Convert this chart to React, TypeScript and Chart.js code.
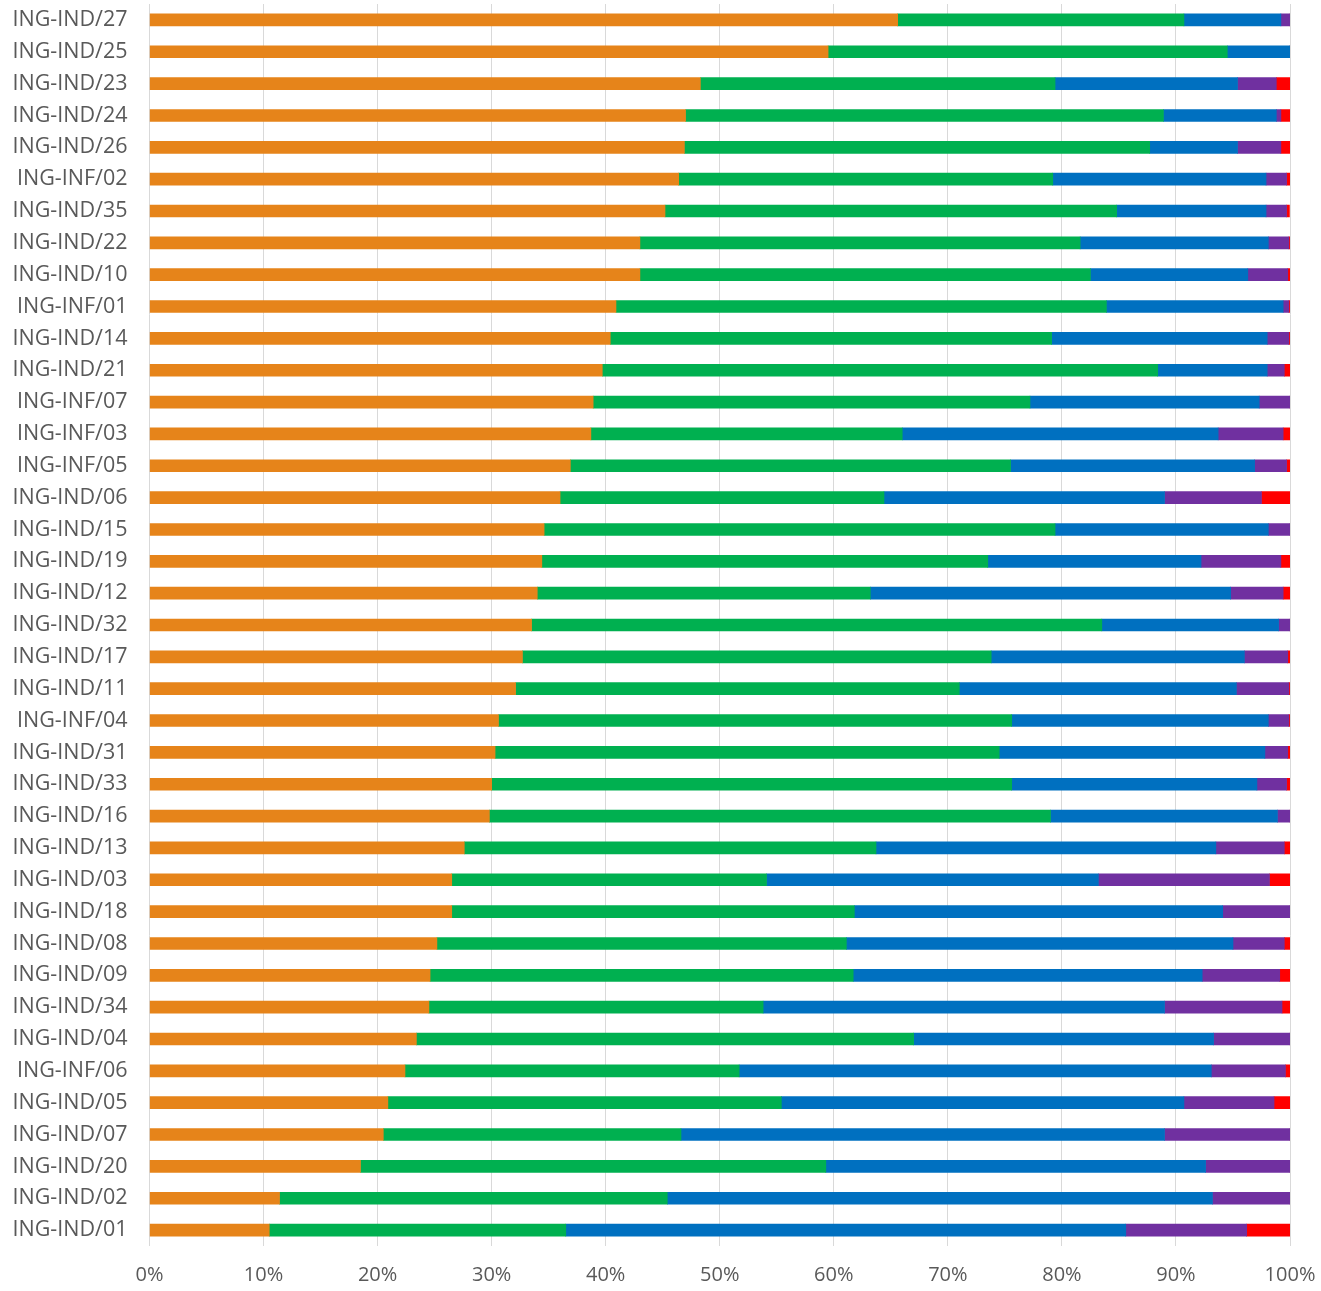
import React, { useEffect, useRef } from "react";
import { Chart, registerables } from "chart.js";

Chart.register(...registerables);

const categories = [
  "ING-IND/27", "ING-IND/25", "ING-IND/23", "ING-IND/24", "ING-IND/26", "ING-INF/02", "ING-IND/35", "ING-IND/22",
  "ING-IND/10", "ING-INF/01", "ING-IND/14", "ING-IND/21", "ING-INF/07", "ING-INF/03", "ING-INF/05", "ING-IND/06",
  "ING-IND/15", "ING-IND/19", "ING-IND/12", "ING-IND/32", "ING-IND/17", "ING-IND/11", "ING-INF/04", "ING-IND/31",
  "ING-IND/33", "ING-IND/16", "ING-IND/13", "ING-IND/03", "ING-IND/18", "ING-IND/08", "ING-IND/09", "ING-IND/34",
  "ING-IND/04", "ING-INF/06", "ING-IND/05", "ING-IND/07", "ING-IND/20", "ING-IND/02", "ING-IND/01",
];

const seriesOrange = [
  65.6, 59.5, 48.3, 47.0, 46.9, 46.4, 45.2, 43.0, 43.0, 40.9, 40.4, 39.7, 38.9, 38.7, 36.9, 36.0, 34.6, 34.4, 34.0, 33.5,
  32.7, 32.1, 30.6, 30.3, 30.0, 29.8, 27.6, 26.5, 26.5, 25.2, 24.6, 24.5, 23.4, 22.4, 20.9, 20.5, 18.5, 11.4, 10.5,
];
const seriesGreen = [
  25.1, 35.0, 31.1, 41.9, 40.8, 32.8, 39.6, 38.6, 39.5, 43.0, 38.7, 48.7, 38.3, 27.3, 38.6, 28.4, 44.8, 39.1, 29.2, 50.0,
  41.1, 38.9, 45.0, 44.2, 45.6, 49.2, 36.1, 27.6, 35.3, 35.9, 37.1, 29.3, 43.6, 29.3, 34.5, 26.1, 40.8, 34.0, 26.0,
];
const seriesBlue = [
  8.5, 5.5, 16.0, 9.9, 7.7, 18.7, 13.1, 16.5, 13.8, 15.5, 18.9, 9.6, 20.1, 27.7, 21.4, 24.6, 18.7, 18.7, 31.6, 15.5,
  22.2, 24.3, 22.5, 23.3, 21.5, 19.9, 29.8, 29.1, 32.3, 33.9, 30.6, 35.2, 26.3, 41.4, 35.3, 42.4, 33.3, 47.8, 49.1,
];
const seriesPurple = [
  0.8, 0.0, 3.4, 0.4, 3.8, 1.8, 1.8, 1.8, 3.5, 0.5, 1.9, 1.5, 2.7, 5.7, 2.8, 8.5, 1.9, 7.0, 4.6, 1.0,
  3.8, 4.6, 1.8, 2.0, 2.6, 1.1, 6.0, 15.0, 5.9, 4.5, 6.8, 10.3, 6.7, 6.5, 7.9, 11.0, 7.4, 6.8, 10.6,
];
const seriesRed = [
  0.0, 0.0, 1.2, 0.8, 0.8, 0.3, 0.25, 0.1, 0.2, 0.15, 0.1, 0.5, 0.0, 0.6, 0.3, 2.5, 0.0, 0.8, 0.6, 0.0,
  0.2, 0.1, 0.1, 0.2, 0.3, 0.0, 0.5, 1.8, 0.0, 0.5, 0.9, 0.7, 0.0, 0.4, 1.4, 0.0, 0.0, 0.0, 3.8,
];

const seriesNames = ["Orange", "Green", "Blue", "Purple", "Red"];
const seriesColors = ["#E6841A", "#00B050", "#0070C0", "#7030A0", "#FF0000"];
const xTicks = [0, 10, 20, 30, 40, 50, 60, 70, 80, 90, 100];

export default function App() {
  const ref = useRef<HTMLCanvasElement | null>(null);

  useEffect(() => {
    document.body.style.margin = "0";
    if (!ref.current) return;
    const allSeries = [seriesOrange, seriesGreen, seriesBlue, seriesPurple, seriesRed];
    const chart = new Chart(ref.current, {
      type: "bar",
      data: {
        labels: categories,
        datasets: allSeries.map((d, i) => ({
          label: seriesNames[i],
          data: d,
          backgroundColor: seriesColors[i],
          borderWidth: 0,
          barThickness: 12,
        })),
      },
      options: {
        indexAxis: "y",
        responsive: false,
        animation: false,
        maintainAspectRatio: false,
        layout: { padding: { top: 4, right: 31, left: 0, bottom: 0 } },
        plugins: { legend: { display: false }, tooltip: { enabled: false } },
        scales: {
          x: {
            stacked: true,
            min: 0,
            max: 100,
            afterBuildTicks: (s: any) => {
              s.ticks = xTicks.map((v) => ({ value: v }));
            },
            afterFit: (s: any) => {
              s.height = 45;
              s.paddingLeft = 0;
              s.paddingRight = 0;
            },
            border: { display: false },
            grid: { color: "#D9D9D9", lineWidth: 1, drawTicks: false },
            ticks: {
              padding: 17,
              color: "#595959",
              font: { family: "'Open Sans'", size: 20 },
              callback: (v: any) => v + "%",
            },
          },
          y: {
            stacked: true,
            afterFit: (s: any) => {
              s.width = 149.5;
              s.paddingTop = 0;
              s.paddingBottom = 0;
            },
            border: { display: false },
            grid: { display: false, drawTicks: false },
            ticks: {
              padding: 22,
              color: "#595959",
              font: { family: "'Open Sans'", size: 21.5 },
            },
          },
        },
      },
    });
    return () => chart.destroy();
  }, []);

  return (
    <div style={{ width: 1321, height: 1291 }}>
      <canvas ref={ref} width={1321} height={1291} style={{ display: "block" }} />
    </div>
  );
}
